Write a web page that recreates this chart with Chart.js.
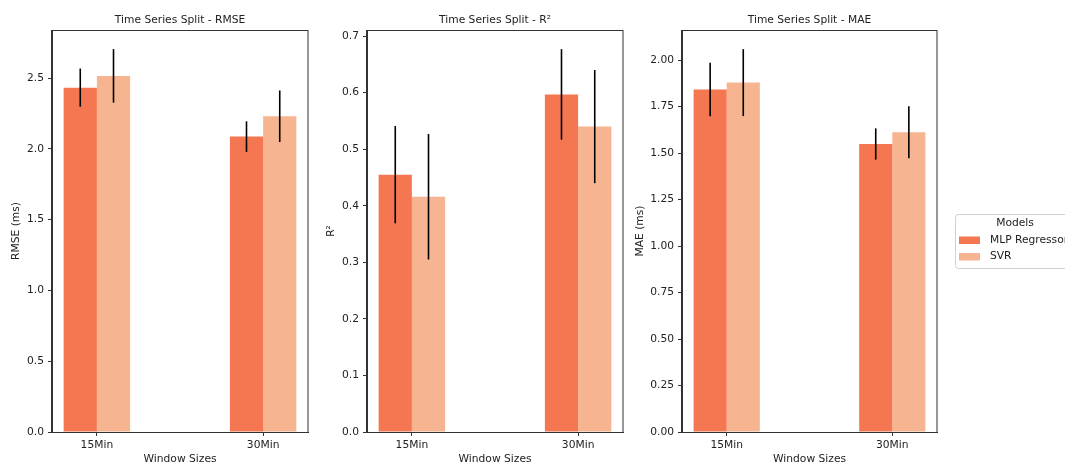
<!DOCTYPE html>
<html><head><meta charset="utf-8">
<script src="https://cdn.jsdelivr.net/npm/chart.js@4.4.1/dist/chart.umd.min.js"></script>
<style>
html,body{margin:0;padding:0;background:#fff;overflow:hidden;width:1065px;height:467px;}
canvas{position:absolute;top:0;}
</style></head><body>
<canvas id="c1" width="320" height="467" style="left:0px"></canvas>
<canvas id="c2" width="320" height="467" style="left:320px"></canvas>
<canvas id="c3" width="435" height="467" style="left:630px"></canvas>
<script>
// ---- data ----
const categories = ['15Min', '30Min'];
const models = ['MLP Regressor', 'SVR'];
const modelColors = ['#f47752', '#f6b590'];

const rmseMLP = [2.433, 2.087];
const rmseMLPErr = [0.135, 0.108];
const rmseSVR = [2.516, 2.231];
const rmseSVRErr = [0.189, 0.182];

const r2MLP = [0.455, 0.597];
const r2MLPErr = [0.086, 0.080];
const r2SVR = [0.416, 0.540];
const r2SVRErr = [0.111, 0.100];

const maeMLP = [1.842, 1.549];
const maeMLPErr = [0.144, 0.084];
const maeSVR = [1.879, 1.612];
const maeSVRErr = [0.180, 0.140];

const rmseTicks = [0, 0.5, 1.0, 1.5, 2.0, 2.5];
const r2Ticks = [0, 0.1, 0.2, 0.3, 0.4, 0.5, 0.6, 0.7];
const maeTicks = [0, 0.25, 0.5, 0.75, 1.0, 1.25, 1.5, 1.75, 2.0];

// ---- styling ----
const FS = 10.7;
const FONT = {family: "'DejaVu Sans', sans-serif", size: FS, weight: 'normal'};
const TXT = '#222222';
const AX = '#333333';

const errorBars = {
  id: 'errorBars',
  afterDatasetsDraw(chart) {
    const ctx = chart.ctx, ys = chart.scales.y;
    ctx.save();
    ctx.strokeStyle = '#000';
    ctx.lineWidth = 1.6;
    chart.data.datasets.forEach((ds, di) => {
      const meta = chart.getDatasetMeta(di);
      meta.data.forEach((bar, i) => {
        const v = ds.data[i].y, e = ds.errors[i];
        ctx.beginPath();
        ctx.moveTo(bar.x, ys.getPixelForValue(v + e));
        ctx.lineTo(bar.x, ys.getPixelForValue(v - e));
        ctx.stroke();
      });
    });
    ctx.restore();
  }
};

const frame = {
  id: 'frame',
  afterDraw(chart) {
    const a = chart.chartArea, ctx = chart.ctx;
    ctx.save();
    ctx.strokeStyle = AX;
    ctx.lineWidth = 1;
    ctx.strokeRect(Math.round(a.left) - 0.5, Math.round(a.top) + 0.5,
      Math.round(a.right) - Math.round(a.left) + 0.5, Math.round(a.bottom) - Math.round(a.top));
    ctx.restore();
  }
};

const legendBox = {
  id: 'legendBox',
  afterDraw(chart) {
    const ctx = chart.ctx;
    const x0 = 325, y0 = 214, w = 125, h = 54, r = 3;
    ctx.save();
    ctx.beginPath();
    ctx.roundRect(x0 + 0.5, y0 + 0.5, w, h, r);
    ctx.fillStyle = 'rgba(255,255,255,0.8)';
    ctx.fill();
    ctx.strokeStyle = '#d0d0d0';
    ctx.lineWidth = 1;
    ctx.stroke();
    ctx.font = FS + "px 'DejaVu Sans', sans-serif";
    ctx.fillStyle = TXT;
    ctx.textBaseline = 'middle';
    ctx.textAlign = 'center';
    ctx.fillText('Models', 385, 223);
    ctx.textAlign = 'left';
    const rows = [240, 256.5];
    chart.data.datasets.forEach((ds, i) => {
      ctx.fillStyle = ds.backgroundColor;
      ctx.fillRect(329, rows[i] - 3.5, 21, 7.5);
      ctx.fillStyle = TXT;
      ctx.fillText(ds.label, 360, rows[i]);
    });
    ctx.restore();
  }
};

function makeChart(id, o) {
  const top = Math.max(...o.mlp.map((v, i) => v + o.mlpErr[i]), ...o.svr.map((v, i) => v + o.svrErr[i]));
  const yMax = top * 1.05;
  const plugins = [errorBars, frame];
  if (o.legend) plugins.push(legendBox);
  return new Chart(document.getElementById(id), {
    type: 'bar',
    data: {
      datasets: [
        {label: models[0], data: categories.map((c, i) => ({x: i, y: o.mlp[i]})), errors: o.mlpErr,
         backgroundColor: modelColors[0], borderWidth: 0, categoryPercentage: 0.4, barPercentage: 1.0},
        {label: models[1], data: categories.map((c, i) => ({x: i, y: o.svr[i]})), errors: o.svrErr,
         backgroundColor: modelColors[1], borderWidth: 0, categoryPercentage: 0.4, barPercentage: 1.0}
      ]
    },
    options: {
      responsive: false,
      animation: false,
      devicePixelRatio: 1,
      layout: {padding: {left: 0, top: 0, bottom: 0, right: o.padRight}},
      plugins: {
        legend: {display: false},
        tooltip: {enabled: false},
        title: {display: true, text: o.title, font: FONT, color: TXT, fullSize: false,
                padding: {top: 13.6, bottom: 3.56}}
      },
      scales: {
        x: {
          type: 'linear', min: -0.27, max: 1.27, offset: false, bounds: 'data',
          afterBuildTicks: s => { s.ticks = categories.map((c, i) => ({value: i})); },
          afterFit: s => { s.height = 35; },
          ticks: {callback: v => categories[v], font: FONT, color: TXT, padding: 3, autoSkip: false, maxRotation: 0},
          grid: {drawOnChartArea: false, drawTicks: true, tickLength: 4, color: AX, offset: false},
          border: {display: true, color: AX, width: 1},
          title: {display: true, text: 'Window Sizes', font: FONT, color: TXT, padding: {top: 0, bottom: 1.1}}
        },
        y: {
          type: 'linear', min: 0, max: yMax, bounds: 'data',
          afterBuildTicks: s => { s.ticks = o.ticks.map(v => ({value: v})); },
          afterFit: s => { s.width = o.yWidth; },
          ticks: {callback: v => Number(v).toFixed(o.dec), font: FONT, color: TXT, padding: 4},
          grid: {drawOnChartArea: false, drawTicks: true, tickLength: 4, color: AX},
          border: {display: true, color: AX, width: 1},
          title: {display: true, text: o.yLabel, font: FONT, color: TXT, padding: {top: o.yTitlePad, bottom: 0}}
        }
      }
    },
    plugins
  });
}

makeChart('c1', {title: 'Time Series Split - RMSE', yLabel: 'RMSE (ms)', mlp: rmseMLP, mlpErr: rmseMLPErr,
  svr: rmseSVR, svrErr: rmseSVRErr, ticks: rmseTicks, dec: 1, yWidth: 52, padRight: 12, yTitlePad: 9.6});
makeChart('c2', {title: 'Time Series Split - R²', yLabel: 'R²', mlp: r2MLP, mlpErr: r2MLPErr,
  svr: r2SVR, svrErr: r2SVRErr, ticks: r2Ticks, dec: 1, yWidth: 47, padRight: 17, yTitlePad: 5.3});
makeChart('c3', {title: 'Time Series Split - MAE', yLabel: 'MAE (ms)', mlp: maeMLP, mlpErr: maeMLPErr,
  svr: maeSVR, svrErr: maeSVRErr, ticks: maeTicks, dec: 2, yWidth: 52, padRight: 128, yTitlePad: 3.6, legend: true});
</script>
</body></html>
